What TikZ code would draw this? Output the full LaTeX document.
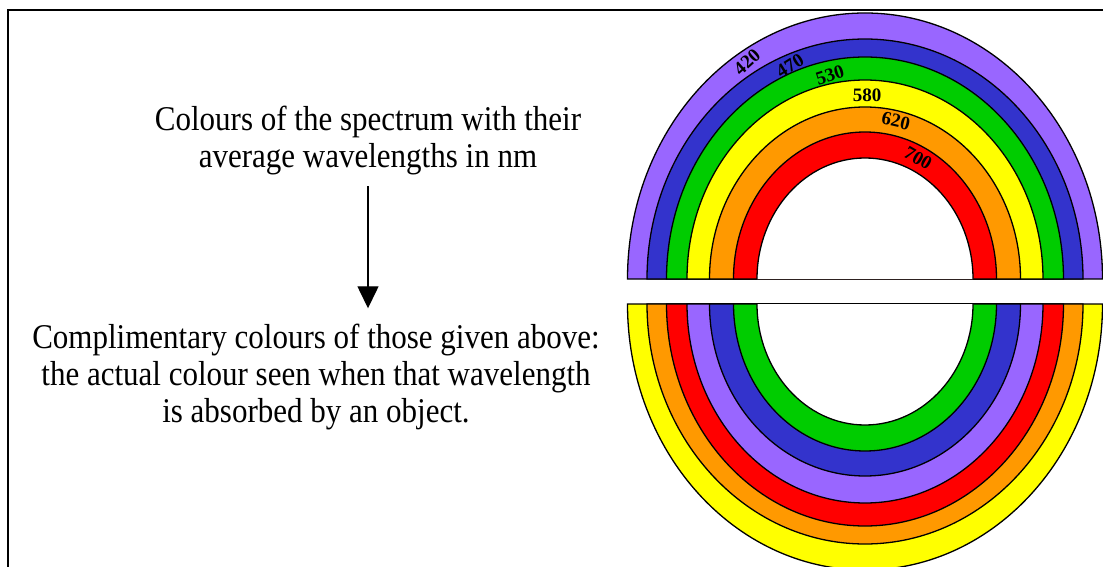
\documentclass[tikz,border=0pt]{standalone}
\usepackage{fontspec}
\setmainfont{Liberation Serif}
\usetikzlibrary{arrows.meta, positioning}
\definecolor{cviolet}{HTML}{9966FF}
\definecolor{cblue}{HTML}{3333CC}
\definecolor{cgreen}{HTML}{00CC00}
\definecolor{cyellow}{HTML}{FFFF00}
\definecolor{corange}{HTML}{FF9900}
\definecolor{cred}{HTML}{FF0000}
\tikzset{
  every picture/.style={line width=1.4pt},
  band/.style={draw=black, fill=#1, line width=1.3pt},
  caption/.style={font=\fontsize{31}{33}\selectfont, align=center, inner sep=0pt, yscale=1.12, transform shape},
  wave/.style={font=\bfseries\fontsize{19}{19}\selectfont, inner sep=0pt},
  arrow/.style={-{Triangle[width=21pt, length=22pt]}, line width=1.4pt},
}
\begin{document}
\begin{tikzpicture}[x=1pt, y=-1pt]
  \useasboundingbox (0,0) rectangle (1103,567);
  \clip (0,0) rectangle (1103,567);
  \draw[line width=2pt] (8,590) |- (1120,10);

  \foreach \rx/\ry/\col in {237.5/266/cviolet, 218/240/cblue, 198.5/222/cgreen, 178/199/cyellow, 155.5/172/corange, 131.5/147/cred}
    \draw[band=\col] (865-\rx,279) arc[start angle=180, end angle=0, x radius=\rx pt, y radius=\ry pt] -- cycle;
  \fill[white] (757,279) arc[start angle=180, end angle=0, x radius=108pt, y radius=121pt] -- cycle;
  \draw[line width=1.3pt] (757,279) arc[start angle=180, end angle=0, x radius=108pt, y radius=121pt];

  \foreach \rx/\ry/\col in {237.5/266/cyellow, 218/240/corange, 198.5/222/cred, 178/199/cviolet, 155.5/172/cblue, 131.5/147/cgreen}
    \draw[band=\col] (865-\rx,304) arc[start angle=180, end angle=360, x radius=\rx pt, y radius=\ry pt] -- cycle;
  \fill[white] (757,304) arc[start angle=180, end angle=360, x radius=108pt, y radius=121pt] -- cycle;
  \draw[line width=1.3pt] (757,304) arc[start angle=180, end angle=360, x radius=108pt, y radius=121pt];

  \node[wave, rotate=42] (w420) at (747,62) {420};
  \node[wave, rotate=32] (w470) at (790,66) {470};
  \node[wave, rotate=18] (w530) at (830,75) {530};
  \node[wave] (w580) at (867,95) {580};
  \node[wave, rotate=-13] (w620) at (896,121) {620};
  \node[wave, rotate=-30] (w700) at (918,158) {700};

  \node[caption] (spec) at (368,141) {Colours of the spectrum with their\\average wavelengths in nm};
  \node[caption] (comp) at (316,377) {Complimentary colours of those given above:\\the actual colour seen when that wavelength\\is absorbed by an object.};
  \draw[arrow] ([yshift=-10pt]spec.south) -- ([yshift=15pt]spec.south |- comp.north);
\end{tikzpicture}
\end{document}
